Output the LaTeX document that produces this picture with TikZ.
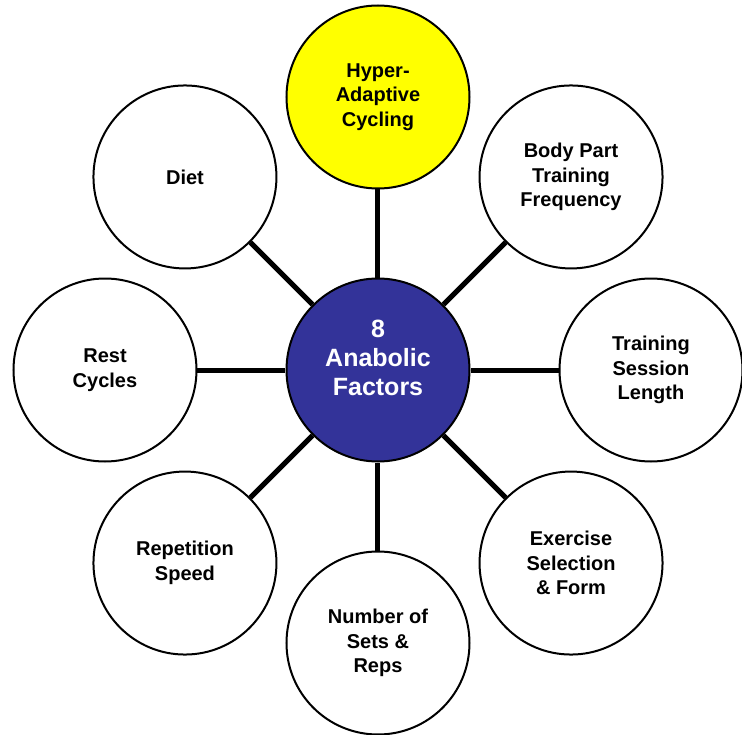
\documentclass[tikz,border=0pt]{standalone}
\usepackage{fontspec}
\setmainfont{Liberation Sans}
\usepackage{tikz}

\definecolor{hubblue}{HTML}{333399}
\definecolor{hotyellow}{HTML}{FFFF00}

\begin{document}
\begin{tikzpicture}[node distance={273pt}, line width=2pt, main/.style = {draw, circle, fill=white, minimum size=183pt, inner sep=0pt, align=center, font=\bfseries\fontsize{20}{24.5}\selectfont}, spoke/.style = {line width=5pt}]
		\useasboundingbox (-378pt,-364pt) rectangle (364pt,370pt);
		\node[main, fill=hubblue, text=white, text depth=24pt, font=\bfseries\fontsize{25}{29}\selectfont] (hub) at (0,0) {8\\Anabolic\\Factors};
		\node[main, fill=hotyellow] (hyper) [above of=hub] {Hyper-\\Adaptive\\Cycling};
		\node[main] (body) [above right of=hub] {Body Part\\Training\\Frequency};
		\node[main] (session) [right of=hub] {Training\\Session\\Length};
		\node[main] (exercise) [below right of=hub] {Exercise\\Selection\\\& Form};
		\node[main] (sets) [below of=hub] {Number of\\Sets \&\\Reps};
		\node[main] (speed) [below left of=hub] {Repetition\\Speed};
		\node[main] (rest) [left of=hub] {Rest\\Cycles};
		\node[main] (diet) [above left of=hub] {Diet};
		
		\draw[spoke] (hub) -- (hyper);
		\draw[spoke] (hub) -- (body);
		\draw[spoke] (hub) -- (session);
		\draw[spoke] (hub) -- (exercise);
		\draw[spoke] (hub) -- (sets);
		\draw[spoke] (hub) -- (speed);
		\draw[spoke] (hub) -- (rest);
		\draw[spoke] (hub) -- (diet);
	\end{tikzpicture}
\end{document}
